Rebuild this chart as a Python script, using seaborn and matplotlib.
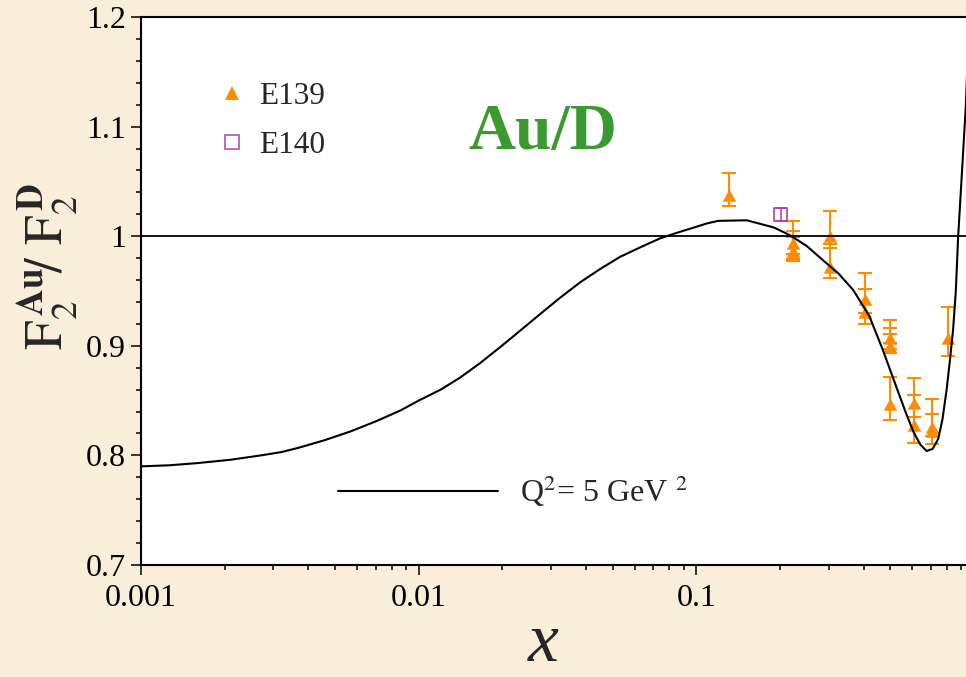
import matplotlib
matplotlib.use("Agg")
import matplotlib.pyplot as plt
from matplotlib.path import Path
from matplotlib.markers import MarkerStyle
from matplotlib.lines import Line2D
from matplotlib.ticker import FixedLocator, LogLocator, MultipleLocator, FuncFormatter, NullFormatter
import pandas as pd
import seaborn as sns

# Model ratio F2(Au)/F2(D) at Q^2 = 5 GeV^2
curve_x = [0.001, 0.00127, 0.0016, 0.0021, 0.0027, 0.0032, 0.0037, 0.0046, 0.0057,
           0.007, 0.0086, 0.01, 0.012, 0.0141, 0.0166, 0.0197, 0.023, 0.0274,
           0.032, 0.0382, 0.045, 0.053, 0.063, 0.074, 0.0873, 0.0955, 0.109, 0.12,
           0.152, 0.19, 0.217, 0.25, 0.286, 0.325, 0.367, 0.42, 0.47, 0.526, 0.57,
           0.604, 0.64, 0.675, 0.71, 0.743, 0.77, 0.797, 0.82, 0.841, 0.86, 0.877,
           0.9, 0.935, 0.96]
curve_ratio = [0.790, 0.791, 0.793, 0.796, 0.800, 0.803, 0.807, 0.814, 0.822,
               0.831, 0.841, 0.850, 0.860, 0.871, 0.884, 0.899, 0.913, 0.929,
               0.943, 0.958, 0.970, 0.981, 0.990, 0.998, 1.004, 1.007, 1.0116, 1.014,
               1.0145, 1.008, 1.001, 0.991, 0.978, 0.966, 0.951, 0.927, 0.896, 0.862, 0.838,
               0.822, 0.810, 0.804, 0.806, 0.815, 0.833, 0.860, 0.888, 0.915, 0.950, 1.000,
               1.048, 1.120, 1.200]

# SLAC E139 gold-to-deuterium ratios
e139_x = [0.131, 0.222, 0.222, 0.222, 0.303, 0.303, 0.405, 0.405, 0.50, 0.50,
          0.50, 0.50, 0.608, 0.608, 0.704, 0.704, 0.807]
e139_ratio = [1.043, 0.999, 0.992, 0.988, 1.006, 0.977, 0.948, 0.936, 0.913, 0.905,
              0.904, 0.852, 0.853, 0.833, 0.831, 0.828, 0.913]
e139_err = [0.015, 0.015, 0.013, 0.011, 0.017, 0.0155, 0.018, 0.016, 0.0105, 0.0115,
            0.007, 0.0195, 0.018, 0.022, 0.0205, 0.010, 0.022]

# SLAC E140
e140_x = [0.201]
e140_ratio = [1.020]
e140_err = [0.006]

y_ticks = [0.7, 0.8, 0.9, 1.0, 1.1, 1.2]
x_ticks = [0.001, 0.01, 0.1]

ORANGE = "#FF8C00"
PURPLE = "#B03CAE"
GREEN = "#3B9A2F"
PAPER = "#F9EEDA"

sns.set_theme(style="ticks")
plt.rcParams["font.family"] = ["Liberation Serif", "DejaVu Serif"]
plt.rcParams["mathtext.fontset"] = "stix"

fig = plt.figure(figsize=(9.66, 6.77), dpi=100, facecolor=PAPER)
ax = fig.add_axes([141 / 966, 112 / 677, 833 / 966, 548 / 677])
ax.set_facecolor("white")

curve = pd.DataFrame({"x": curve_x, "ratio": curve_ratio})
e139 = pd.DataFrame({"x": e139_x, "ratio": e139_ratio, "err": e139_err})
e140 = pd.DataFrame({"x": e140_x, "ratio": e140_ratio, "err": e140_err})

# triangle whose apex sits on the data value
apex_tri = MarkerStyle(Path([(0, 0), (-0.5, -0.9), (0.5, -0.9), (0, 0)],
                            [Path.MOVETO, Path.LINETO, Path.LINETO, Path.CLOSEPOLY]))

ax.errorbar(e139["x"], e139["ratio"], yerr=e139["err"], fmt="none", ecolor=ORANGE,
            elinewidth=1.5, capsize=5, capthick=1.5, zorder=2)
sns.scatterplot(data=e139, x="x", y="ratio", marker=apex_tri, s=310, color=ORANGE,
                edgecolor=ORANGE, linewidth=0, ax=ax, zorder=3)

ax.errorbar(e140["x"], e140["ratio"], yerr=e140["err"], fmt="none", ecolor=PURPLE,
            elinewidth=1.1, capsize=4.5, capthick=1.1, zorder=2)
sns.scatterplot(data=e140, x="x", y="ratio", marker="s", s=85, facecolor="none",
                edgecolor=PURPLE, linewidth=1.2, ax=ax, zorder=3)

sns.lineplot(data=curve, x="x", y="ratio", color="black", linewidth=1.5,
             ax=ax, zorder=4, sort=False)
curve_line = ax.get_lines()[-1]
ax.axhline(1.0, color="black", linewidth=1.3, zorder=4)

ax.set_xscale("log")
ax.set_xlim(0.001, 1.0)
ax.set_ylim(0.7, 1.2)
ax.xaxis.set_major_locator(FixedLocator(x_ticks))
ax.xaxis.set_major_formatter(FuncFormatter(lambda v, p: f"{v:g}"))
ax.xaxis.set_minor_locator(LogLocator(base=10, subs=range(2, 10)))
ax.xaxis.set_minor_formatter(NullFormatter())
ax.yaxis.set_major_locator(FixedLocator(y_ticks))
ax.yaxis.set_major_formatter(FuncFormatter(lambda v, p: f"{v:g}"))
ax.yaxis.set_minor_locator(MultipleLocator(0.02))

for s in ax.spines.values():
    s.set_linewidth(1.5)
    s.set_color("black")
ax.tick_params(which="both", direction="out", color="black", width=1.1,
               top=False, right=False, labelsize=23, labelcolor="black")
ax.tick_params(which="major", length=7)
ax.tick_params(which="minor", length=3.6)
ax.tick_params(axis="x", which="major", pad=7)
ax.tick_params(axis="y", which="major", pad=4)
ax.set_xlabel("")
ax.set_ylabel("")

ax.text(-0.0936, 0.545, r"$\mathrm{F}_2^{\,\mathbf{Au}}\!/\ \mathrm{F}_2^{\,\mathbf{D}}$",
        transform=ax.transAxes, rotation=90, rotation_mode="anchor",
        ha="center", va="baseline", fontsize=38)
ax.text(0.4826, -0.176, "x", transform=ax.transAxes, ha="center", va="baseline",
        fontsize=50, style="italic")
ax.text(0.4826, 0.759, "Au/D", transform=ax.transAxes, ha="center", va="baseline",
        fontsize=47, fontweight="bold", color=GREEN)

data_handles = [
    Line2D([], [], ls="none", marker="^", ms=10, mfc=ORANGE, mec=ORANGE, mew=0),
    Line2D([], [], ls="none", marker="s", ms=9.5, mfc="none", mec=PURPLE, mew=1.1),
]
leg1 = ax.legend(data_handles, ["E139", "E140"], loc="upper left",
                 bbox_to_anchor=(0.0955, 0.881), frameon=False, fontsize=22.5,
                 handlelength=0.75, handletextpad=0.5, labelspacing=0.62,
                 borderpad=0, borderaxespad=0)
ax.add_artist(leg1)
ax.legend([curve_line], [r"Q$^2$= 5 GeV $^2$"], loc="center left",
          bbox_to_anchor=(0.2369, 0.1338), frameon=False, fontsize=23,
          handlelength=5.0, handletextpad=0.68, borderpad=0, borderaxespad=0)

fig.savefig("out.png", dpi=100, facecolor=PAPER)
